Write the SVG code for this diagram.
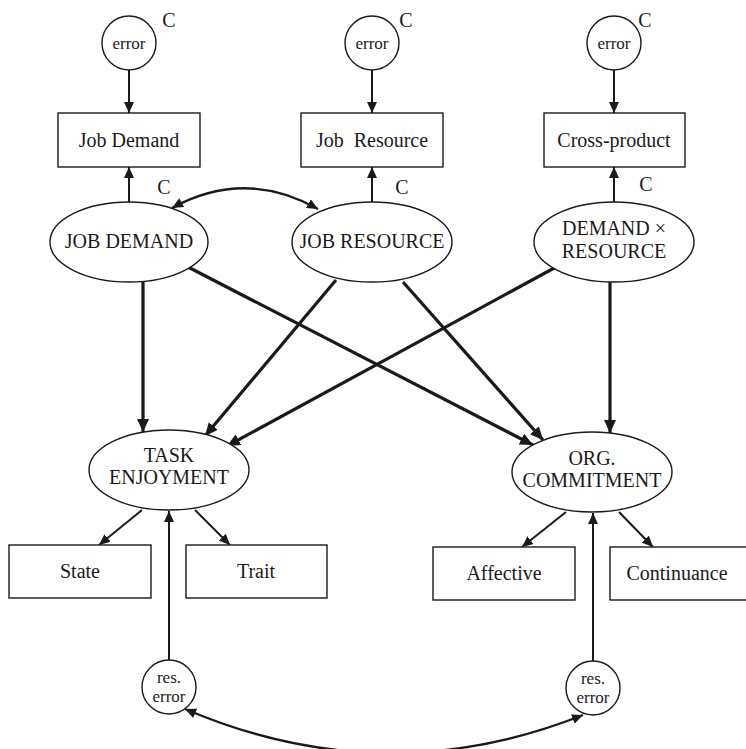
<svg xmlns="http://www.w3.org/2000/svg" width="746" height="749" viewBox="0 0 746 749">
<style>
  .shape { fill: #fff; stroke: #1a1a1a; stroke-width: 1.4; }
  .t { font-family: 'Liberation Serif', 'DejaVu Serif', serif; font-size: 20px; fill: #1a1a1a; text-anchor: middle; }
  .ts { font-family: 'Liberation Serif', 'DejaVu Serif', serif; font-size: 17px; fill: #1a1a1a; text-anchor: middle; }
  .thick { stroke: #1a1a1a; stroke-width: 3.2; fill: none; marker-end: url(#ahBig); }
  .thin { stroke: #1a1a1a; stroke-width: 2; fill: none; marker-end: url(#ah); }
  .curve { stroke: #1a1a1a; stroke-width: 2.4; fill: none; marker-start: url(#ahStart); marker-end: url(#ah); }
</style>
<defs>
  <marker id="ah" markerUnits="userSpaceOnUse" markerWidth="12" markerHeight="10" refX="11" refY="5" orient="auto">
    <path d="M0,0 L11,5 L0,10 z" fill="#1a1a1a"/>
  </marker>
  <marker id="ahStart" markerUnits="userSpaceOnUse" markerWidth="12" markerHeight="10" refX="0" refY="5" orient="auto">
    <path d="M11,0 L0,5 L11,10 z" fill="#1a1a1a"/>
  </marker>
  <marker id="ahBig" markerUnits="userSpaceOnUse" markerWidth="14" markerHeight="12" refX="13" refY="6" orient="auto">
    <path d="M0,0 L13,6 L0,12 z" fill="#1a1a1a"/>
  </marker>
</defs>
<rect width="746" height="749" fill="#fff"/>

<g id="connectors">
  <line class="thin" x1="129" y1="70" x2="129" y2="113"/>
  <line class="thin" x1="372" y1="70" x2="372" y2="113"/>
  <line class="thin" x1="614" y1="70" x2="614" y2="113"/>
  <line class="thin" x1="129" y1="202" x2="129" y2="167"/>
  <line class="thin" x1="372" y1="202" x2="372" y2="167"/>
  <line class="thin" x1="614" y1="202" x2="614" y2="167"/>
  <path class="curve" d="M172,208 Q245,168 318,209"/>
  <line class="thick" x1="143" y1="282" x2="143" y2="432"/>
  <line class="thick" x1="188" y1="267" x2="533" y2="445"/>
  <line class="thick" x1="336" y1="280" x2="205" y2="436"/>
  <line class="thick" x1="403" y1="282" x2="543" y2="440"/>
  <line class="thick" x1="556" y1="267" x2="227" y2="446"/>
  <line class="thick" x1="610" y1="282" x2="610" y2="433"/>
  <line class="thin" x1="142" y1="510" x2="99" y2="545"/>
  <line class="thin" x1="195" y1="510" x2="230" y2="545"/>
  <line class="thin" x1="566" y1="512" x2="522" y2="547"/>
  <line class="thin" x1="619" y1="512" x2="653" y2="547"/>
  <line class="thin" x1="169" y1="660" x2="169" y2="511"/>
  <line class="thin" x1="593" y1="661" x2="593" y2="513"/>
  <path class="curve" d="M185,709 Q384,794 583,715"/>
</g>

<g id="error1"><circle class="shape" cx="129" cy="43" r="27"/><text class="ts" x="129" y="49">error</text><text class="t" x="169" y="27">C</text></g>
<g id="error2"><circle class="shape" cx="372" cy="43" r="27"/><text class="ts" x="372" y="49">error</text><text class="t" x="406" y="27">C</text></g>
<g id="error3"><circle class="shape" cx="614" cy="43" r="27"/><text class="ts" x="614" y="49">error</text><text class="t" x="645" y="27">C</text></g>

<g id="box-job-demand"><rect class="shape" x="58" y="113" width="142" height="54"/><text class="t" x="129" y="147">Job Demand</text></g>
<g id="box-job-resource"><rect class="shape" x="301" y="113" width="142" height="54"/><text class="t" x="372" y="147" xml:space="preserve">Job  Resource</text></g>
<g id="box-cross-product"><rect class="shape" x="544" y="113" width="141" height="54"/><text class="t" x="614" y="147">Cross-product</text></g>

<g id="job-demand"><ellipse class="shape" cx="129" cy="242" rx="79" ry="40"/><text class="t" x="129" y="248">JOB DEMAND</text><text class="t" x="164" y="194">C</text></g>
<g id="job-resource"><ellipse class="shape" cx="372" cy="242" rx="80" ry="40"/><text class="t" x="372" y="248">JOB RESOURCE</text><text class="t" x="402" y="194">C</text></g>
<g id="demand-x-resource"><ellipse class="shape" cx="614" cy="242" rx="80" ry="40"/><text class="t" x="614" y="235">DEMAND ×</text><text class="t" x="614" y="258">RESOURCE</text><text class="t" x="646" y="191">C</text></g>

<g id="task-enjoyment"><ellipse class="shape" cx="169" cy="470" rx="80" ry="40"/><text class="t" x="169" y="462">TASK</text><text class="t" x="169" y="484">ENJOYMENT</text></g>
<g id="org-commitment"><ellipse class="shape" cx="592" cy="472" rx="80" ry="40"/><text class="t" x="592" y="465">ORG.</text><text class="t" x="592" y="487">COMMITMENT</text></g>

<g id="box-state"><rect class="shape" x="9" y="545" width="142" height="53"/><text class="t" x="80" y="578">State</text></g>
<g id="box-trait"><rect class="shape" x="186" y="545" width="141" height="53"/><text class="t" x="256" y="578">Trait</text></g>
<g id="box-affective"><rect class="shape" x="433" y="547" width="142" height="53"/><text class="t" x="504" y="580">Affective</text></g>
<g id="box-continuance"><rect class="shape" x="610" y="547" width="150" height="53"/><text class="t" x="677" y="580">Continuance</text></g>

<g id="res-error1"><circle class="shape" cx="169" cy="687" r="27"/><text class="ts" x="169" y="683">res.</text><text class="ts" x="169" y="702">error</text></g>
<g id="res-error2"><circle class="shape" cx="593" cy="688" r="27"/><text class="ts" x="593" y="684">res.</text><text class="ts" x="593" y="703">error</text></g>
</svg>
